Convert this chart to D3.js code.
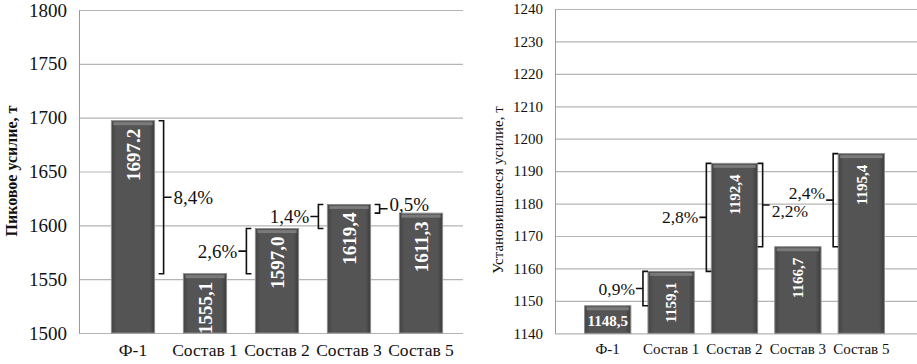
<!DOCTYPE html>
<html>
<head>
<meta charset="utf-8">
<script src="https://cdn.jsdelivr.net/npm/d3@7"></script>
<style>
  body { margin: 0; background: #fff; }
  svg text { font-family: "Liberation Serif", "DejaVu Serif", serif; }
</style>
</head>
<body>
<div id="chart"></div>
<script>
// data
const categories = ["Ф-1", "Состав 1", "Состав 2", "Состав 3", "Состав 5"];
const peakValues = [1697.2, 1555.1, 1597.0, 1619.4, 1611.3];
const peakLabels = ["1697.2", "1555,1", "1597,0", "1619,4", "1611,3"];
const peakTicks = [1500, 1550, 1600, 1650, 1700, 1750, 1800];
const steadyValues = [1148.5, 1159.1, 1192.4, 1166.7, 1195.4];
const steadyLabels = ["1148,5", "1159,1", "1192,4", "1166,7", "1195,4"];
const steadyTicks = [1140, 1150, 1160, 1170, 1180, 1190, 1200, 1210, 1220, 1230, 1240];
// brackets: [from bar, to bar, text, side]
const peakDiffs = [[0, 1, "8,4%", "right"], [1, 2, "2,6%", "left"], [2, 3, "1,4%", "left"], [3, 4, "0,5%", "right"]];
const steadyDiffs = [[0, 1, "0,9%", "left"], [1, 2, "2,8%", "left"], [2, 3, "2,2%", "right"], [3, 4, "2,4%", "left"]];

const FONT = "Liberation Serif, DejaVu Serif, serif";

const svg = d3.select("#chart").append("svg")
  .attr("width", 917).attr("height", 364)
  .attr("font-family", FONT);

const defs = svg.append("defs");
const grad = defs.append("linearGradient").attr("id", "barGrad")
  .attr("x1", "0%").attr("x2", "100%").attr("y1", "0%").attr("y2", "0%");
grad.append("stop").attr("offset", "0%").attr("stop-color", "#444");
grad.append("stop").attr("offset", "12%").attr("stop-color", "#545454");
grad.append("stop").attr("offset", "88%").attr("stop-color", "#545454");
grad.append("stop").attr("offset", "100%").attr("stop-color", "#3c3c3c");

function drawPanel(cfg) {
  const g = svg.append("g");
  const y = d3.scaleLinear().domain(cfg.domain).range([cfg.bottom, cfg.top]);
  const x = d3.scaleBand().domain(categories).range(cfg.xRange).paddingInner(cfg.pad).paddingOuter(cfg.pad / 2);

  // gridlines
  g.selectAll(".grid").data(cfg.ticks).enter().append("line")
    .attr("x1", cfg.axisX).attr("x2", cfg.gridEnd)
    .attr("y1", d => y(d) + 0.5).attr("y2", d => y(d) + 0.5)
    .attr("stroke", "#b5b5b5").attr("stroke-width", 1.2);

  // y axis
  const yAxis = g.append("g")
    .attr("transform", "translate(" + cfg.axisX + ",0)")
    .call(d3.axisLeft(y).tickValues(cfg.ticks).tickSize(0).tickPadding(cfg.tickPad).tickFormat(d3.format("d")));
  yAxis.attr("font-family", FONT).attr("font-size", cfg.tickFont);
  yAxis.select(".domain").attr("stroke", "#999");
  yAxis.selectAll("text").attr("fill", "#111");

  // x labels
  g.selectAll(".xl").data(categories).enter().append("text")
    .attr("x", d => x(d) + x.bandwidth() / 2)
    .attr("y", cfg.xLabelY)
    .attr("text-anchor", "middle")
    .attr("font-size", cfg.xFont).attr("fill", "#111")
    .text(d => d);

  // bars
  const bars = g.selectAll(".bar").data(cfg.values).enter().append("g");
  bars.append("rect")
    .attr("x", (d, i) => x(categories[i]))
    .attr("y", d => y(d))
    .attr("width", x.bandwidth())
    .attr("height", d => cfg.bottom - y(d))
    .attr("fill", "url(#barGrad)")
    .attr("stroke", "#8c8c8c").attr("stroke-width", 1);
  bars.append("rect")
    .attr("x", (d, i) => x(categories[i]) + 2)
    .attr("y", d => y(d) + 1.5)
    .attr("width", x.bandwidth() - 4)
    .attr("height", 3)
    .attr("fill", "#7a7a7a");

  // value labels
  bars.append("text")
    .attr("transform", (d, i) => {
      const cx = x(categories[i]) + x.bandwidth() / 2;
      if (cfg.flat && cfg.flat(i)) return "translate(" + cx + "," + ((y(d) + cfg.bottom) / 2 + 1) + ")";
      return "translate(" + cx + "," + (y(d) + cfg.labelGap) + ") rotate(-90)";
    })
    .attr("text-anchor", (d, i) => cfg.flat && cfg.flat(i) ? "middle" : "end")
    .attr("dy", "0.35em")
    .attr("font-size", cfg.valueFont).attr("font-weight", "bold").attr("fill", "#fff")
    .text((d, i) => cfg.labels[i]);

  // difference brackets
  cfg.diffs.forEach(([a, b, txt, side], k) => {
    const va = cfg.values[a], vb = cfg.values[b];
    const y1 = y(Math.max(va, vb)), y2 = y(Math.min(va, vb));
    const ym = (y1 + y2) / 2;
    const shift = (cfg.pctShift && cfg.pctShift[k]) || 0;
    let vx, hook, tick;
    if (side === "right") {
      vx = x(categories[a]) + x.bandwidth() + cfg.brGap;
      hook = -cfg.hook; tick = cfg.tickLen;
    } else {
      vx = x(categories[b]) - cfg.brGap;
      hook = cfg.hook; tick = -cfg.tickLen;
    }
    const path = "M" + (vx + hook) + "," + y1 + "H" + vx + "V" + y2 + "H" + (vx + hook) +
      "M" + vx + "," + ym + "H" + (vx + tick);
    g.append("path").attr("d", path).attr("fill", "none")
      .attr("stroke", "#111").attr("stroke-width", 1.6);
    g.append("text")
      .attr("x", vx + tick + (side === "right" ? 2 : -1))
      .attr("y", ym + shift)
      .attr("dy", "0.35em")
      .attr("text-anchor", side === "right" ? "start" : "end")
      .attr("font-size", cfg.pctFont).attr("fill", "#111")
      .text(txt);
  });

  // y title
  g.append("text")
    .attr("transform", "translate(" + cfg.titleX + "," + cfg.titleY + ") rotate(-90)")
    .attr("text-anchor", "middle")
    .attr("dy", "0.35em")
    .attr("font-size", cfg.titleFont)
    .attr("font-weight", cfg.titleWeight)
    .attr("fill", "#111")
    .text(cfg.title);
}

drawPanel({
  domain: [1500, 1800], ticks: peakTicks, values: peakValues, labels: peakLabels,
  top: 10, bottom: 333, axisX: 79, gridEnd: 463, xRange: [97, 457], pad: 0.4,
  tickFont: 19, tickPad: 12, xFont: 17.5, xLabelY: 356, valueFont: 19, labelGap: 8,
  diffs: peakDiffs, brGap: 9, hook: 5, tickLen: 8, pctFont: 19, pctShift: [0, 0, 0, -4],
  title: "Пиковое усилие, т", titleX: 11, titleY: 171, titleFont: 16, titleWeight: "bold"
});

drawPanel({
  domain: [1140, 1240], ticks: steadyTicks, values: steadyValues, labels: steadyLabels,
  top: 9, bottom: 333.3, axisX: 555, gridEnd: 917, xRange: [576, 893], pad: 0.27,
  tickFont: 15, tickPad: 12, xFont: 15, xLabelY: 354, valueFont: 15, labelGap: 11,
  flat: i => i === 0,
  diffs: steadyDiffs, brGap: 5, hook: 5, tickLen: 7, pctFont: 17.5, pctShift: [0, 0, 6, -7],
  title: "Установившееся усилие, т", titleX: 498, titleY: 190, titleFont: 15, titleWeight: "normal"
});
</script>
</body>
</html>
